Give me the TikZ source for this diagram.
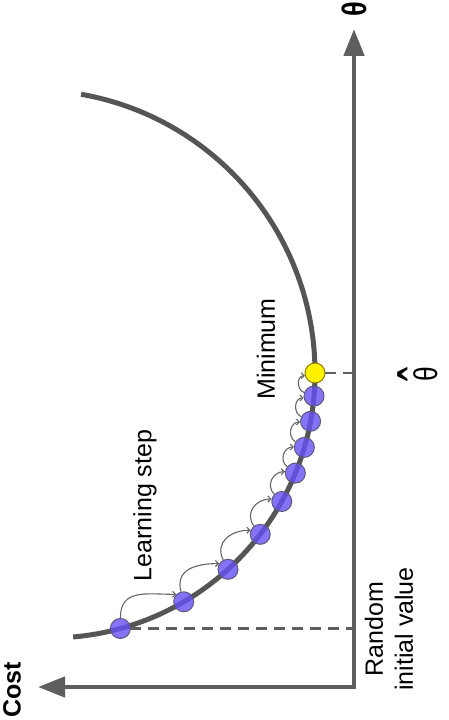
\documentclass[tikz,border=0pt]{standalone}
\usepackage{fontspec}
\setmainfont{Liberation Sans}
\usetikzlibrary{arrows.meta}
\definecolor{axisgray}{HTML}{5E5E5E}
\definecolor{curvegray}{HTML}{555555}
\definecolor{arrowgray}{HTML}{666666}
\definecolor{ballblue}{HTML}{6650F5}
\definecolor{ballrim}{HTML}{5A5A7A}
\definecolor{ballyellow}{HTML}{FFF200}
\definecolor{yellowrim}{HTML}{8C7A00}
\begin{document}
\begin{tikzpicture}[x=1pt,y=1pt,
  axisline/.style={draw=axisgray, line width=4.5pt,
    {Triangle[length=27pt,width=20pt]}-{Triangle[length=27pt,width=20pt]}},
  costcurve/.style={draw=curvegray, line width=5pt},
  dashline/.style={draw=axisgray, line width=2.5pt, dash pattern=on 11pt off 7pt},
  steparrow/.style={draw=arrowgray, line width=1.1pt, -{Straight Barb[length=3pt,width=6pt]}},
  ball/.style={circle, minimum size=20pt, inner sep=0pt, draw=ballrim, line width=1pt,
    fill=ballblue, fill opacity=0.8},
  minball/.style={circle, minimum size=20pt, inner sep=0pt, draw=yellowrim, line width=1pt,
    fill=ballyellow},
  lbl/.style={rotate=90, inner sep=0pt, font=\fontsize{25}{30}\selectfont}
]
\useasboundingbox (0,0) rectangle (448,720);

% axes
\coordinate (O) at (354,33);
\coordinate (ytip) at (354,691);
\coordinate (xtip) at (38,33);
\draw[axisline] (ytip) -- (O) -- (xtip);

% cost curve
\draw[costcurve] (32,347) ++(80:283) arc[start angle=80, end angle=0, radius=283]
  arc[start angle=0, end angle=-85, radius=265];

% ball positions
\foreach \a [count=\k] in {-74.6,-59.7,-47.8,-37.5,-29,-22.2,-16.3,-10.5,-5}
  \path (50,347) ++(\a:265) coordinate (c\k);
\path (50,347) ++(0:265) coordinate (c10);

% dashed lines
\draw[dashline] ([xshift=10pt]c1) -- (c1 -| O);
\draw[dashline] ([xshift=10pt]c10) -- (c10 -| O);

% balls on top
\foreach \k in {1,...,9}
  \node[ball] (b\k) at (c\k) {};
\node[minball] (b10) at (c10) {};

% learning step arrows
\foreach \i/\ai/\aj [evaluate=\i as \j using int(\i+1),
                     evaluate=\ai as \s using int(\ai+165),
                     evaluate=\aj as \e using int(\aj+195)] in
  {1/-74.6/-59.7, 2/-59.7/-47.8, 3/-47.8/-37.5, 4/-37.5/-29, 5/-29/-22.2,
   6/-22.2/-16.3, 7/-16.3/-10.5, 8/-10.5/-5, 9/-5/0}
  \draw[steparrow] (b\i.\s) to[out=\s, in=180, looseness=1.25] (b\j.\e);

% labels
\node[lbl, font=\fontsize{25}{30}\selectfont\bfseries] (cost) at (12,30) {Cost};
\node[lbl, font=\fontsize{34}{34}\selectfont\bfseries] (theta) at (354,711) {\scalebox{0.8}[1]{θ}};
\node[lbl, anchor=base, font=\fontsize{33}{33}\selectfont] (thetahat) at (437,346)
  {\ooalign{\hfil\raisebox{-13pt}[40pt][0pt]{\scalebox{1.3}[2.2]{ˆ}}\hfil\cr\scalebox{0.8}[1]{θ}\cr}};
\node[lbl] (minlbl) at (266,371) {Minimum};
\node[lbl] (lslbl) at (145,214.5) {Learning step};
\node[lbl, align=center] (rndlbl) at (389,91) {Random\\initial value};
\end{tikzpicture}
\end{document}
